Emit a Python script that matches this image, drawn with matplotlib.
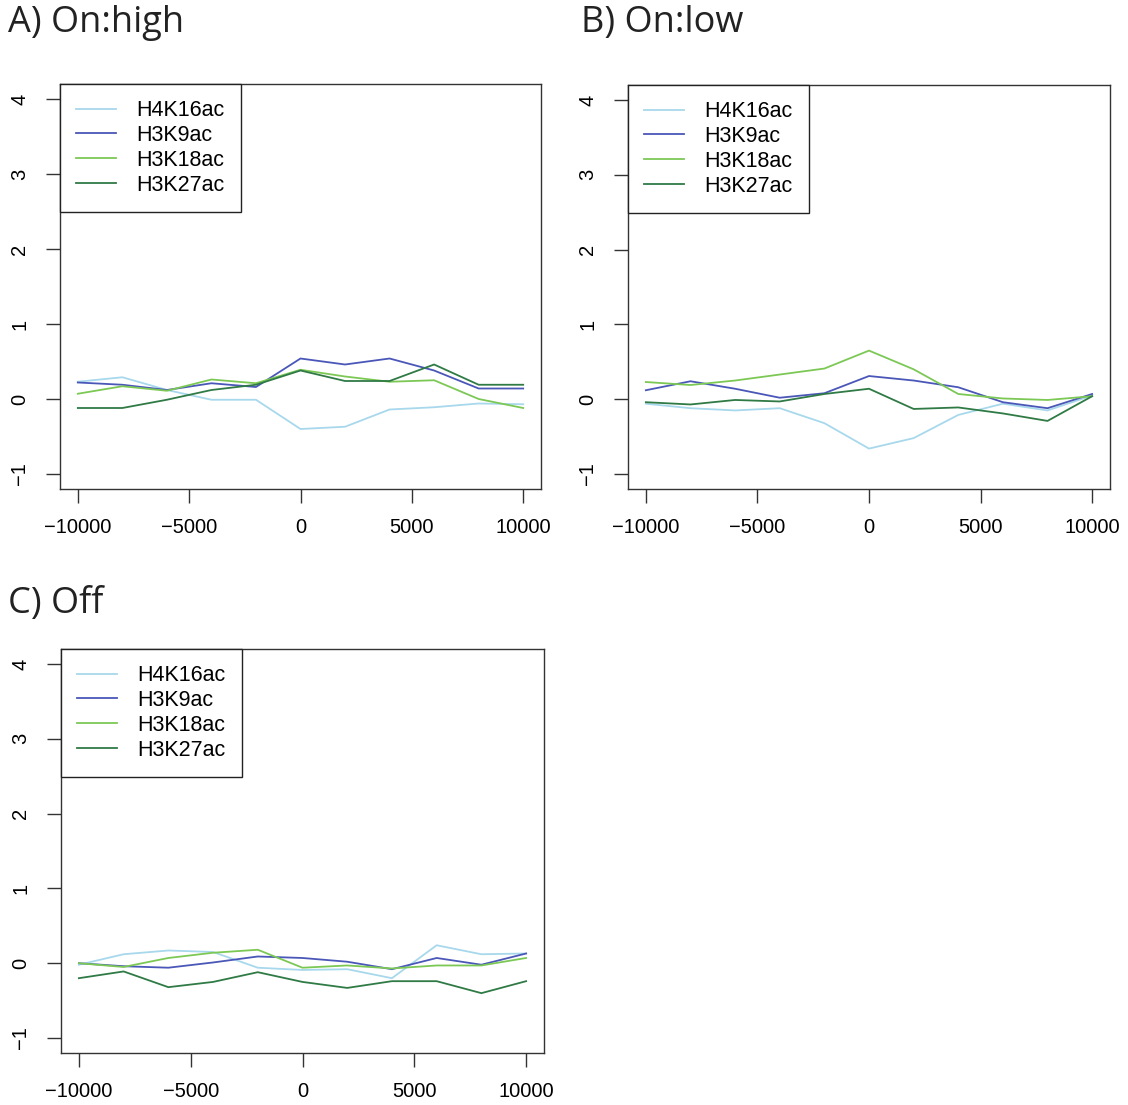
import numpy as np
import matplotlib
matplotlib.use("Agg")
import matplotlib.pyplot as plt

# positions along the gene (bp)
pos = np.arange(-10000, 10001, 2000)
marks = ["H4K16ac", "H3K9ac", "H3K18ac", "H3K27ac"]
colors = ["#a8d8ec", "#4a57b8", "#7cc855", "#2f7a45"]

# A) On:high
on_high = {
    "H4K16ac": [0.23, 0.29, 0.12, -0.01, -0.01, -0.40, -0.37, -0.14, -0.11, -0.06, -0.07],
    "H3K9ac":  [0.22, 0.19, 0.12, 0.21, 0.16, 0.54, 0.46, 0.54, 0.38, 0.14, 0.14],
    "H3K18ac": [0.07, 0.17, 0.11, 0.26, 0.21, 0.39, 0.30, 0.23, 0.25, 0.00, -0.12],
    "H3K27ac": [-0.12, -0.12, -0.01, 0.12, 0.19, 0.38, 0.24, 0.24, 0.46, 0.19, 0.19],
}
# B) On:low
on_low = {
    "H4K16ac": [-0.06, -0.12, -0.15, -0.12, -0.32, -0.66, -0.52, -0.21, -0.06, -0.15, 0.05],
    "H3K9ac":  [0.12, 0.24, 0.14, 0.02, 0.08, 0.31, 0.25, 0.16, -0.04, -0.12, 0.07],
    "H3K18ac": [0.23, 0.19, 0.25, 0.33, 0.41, 0.65, 0.40, 0.07, 0.01, -0.01, 0.04],
    "H3K27ac": [-0.04, -0.07, -0.01, -0.03, 0.07, 0.14, -0.13, -0.11, -0.19, -0.29, 0.04],
}
# C) Off
off = {
    "H4K16ac": [-0.02, 0.12, 0.17, 0.15, -0.06, -0.09, -0.08, -0.20, 0.24, 0.12, 0.13],
    "H3K9ac":  [0.00, -0.04, -0.06, 0.01, 0.09, 0.07, 0.02, -0.08, 0.07, -0.02, 0.13],
    "H3K18ac": [0.00, -0.05, 0.07, 0.14, 0.18, -0.06, -0.03, -0.07, -0.03, -0.03, 0.07],
    "H3K27ac": [-0.20, -0.11, -0.32, -0.25, -0.12, -0.25, -0.33, -0.24, -0.24, -0.40, -0.24],
}

W, H = 1128, 1105
fig = plt.figure(figsize=(W / 100, H / 100), dpi=100)
plt.rcParams['font.family'] = ['Liberation Sans', 'DejaVu Sans']

def px_axes(l, t, r, b):
    return fig.add_axes([l / W, 1 - b / H, (r - l) / W, (b - t) / H])

def panel(ax, data):
    for m, c in zip(marks, colors):
        ax.plot(pos, data[m], color=c, lw=1.3, label=m)
    ax.set_xlim(-10800, 10800)
    ax.set_ylim(-1.2, 4.2)
    ax.set_xticks([-10000, -5000, 0, 5000, 10000])
    ax.set_xticklabels(["\u221210000", "\u22125000", "0", "5000", "10000"])
    ax.set_yticks([-1, 0, 1, 2, 3, 4])
    ax.set_yticklabels(["\u22121", "0", "1", "2", "3", "4"], rotation=90, va='center')
    ax.tick_params(length=10, width=1, color='#333333', labelsize=14.5, pad=11)
    ax.tick_params(axis='y', pad=12)
    for s in ax.spines.values():
        s.set_color('#333333')
        s.set_linewidth(1)
    leg = ax.legend(loc='upper left', borderaxespad=0, fancybox=False,
                    fontsize=15.5, handlelength=1.85, handletextpad=0.95,
                    labelspacing=0.18, borderpad=0.75, framealpha=1)
    leg.get_frame().set_edgecolor('#222222')
    leg.get_frame().set_linewidth(1)

axA = px_axes(60, 84, 541, 489)
axB = px_axes(628, 85, 1110, 489)
axC = px_axes(61, 649, 544, 1053)
panel(axA, on_high)
panel(axB, on_low)
panel(axC, off)

tfont = dict(fontsize=26, family=['Open Sans', 'DejaVu Sans'], va='center', ha='left', color='#222222')
fig.text(8 / W, 1 - 23 / H, "A) On:high", **tfont)
fig.text(581 / W, 1 - 23 / H, "B) On:low", **tfont)
fig.text(8 / W, 1 - 604 / H, "C) Off", **tfont)

fig.savefig("out.png", dpi=100)
